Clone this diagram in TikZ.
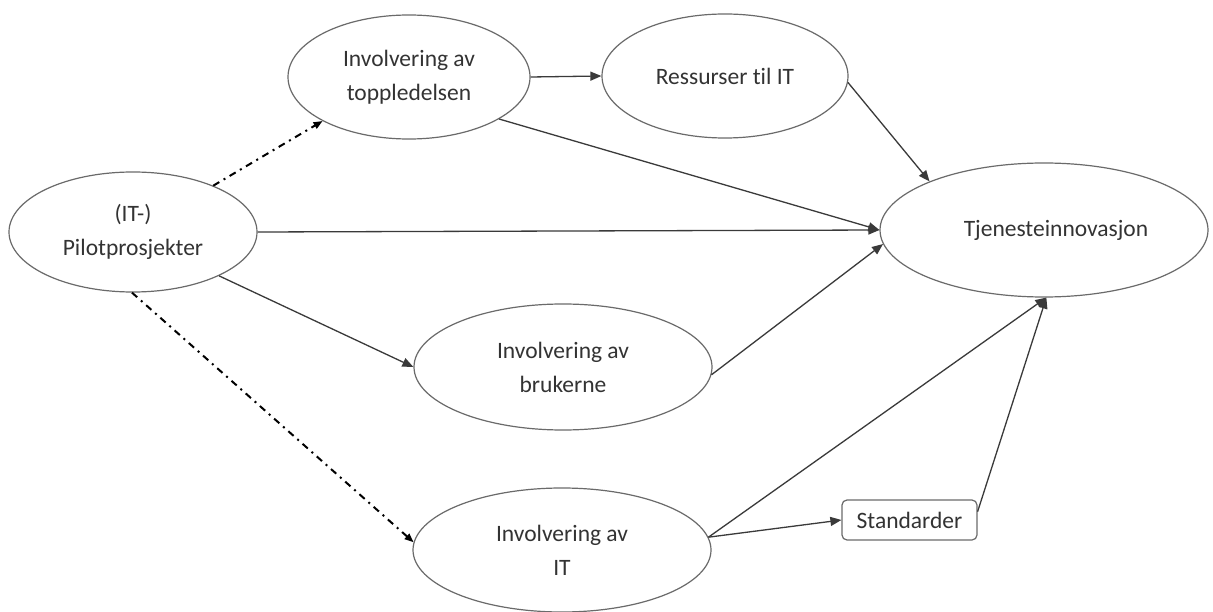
\documentclass[tikz,border=0pt]{standalone}
\usepackage{fontspec}
\setmainfont{Carlito}[RawFeature={-liga;-clig;-dlig}]
\usetikzlibrary{shapes.geometric,arrows.meta}
\definecolor{ellcol}{HTML}{6A6A6A}
\definecolor{lincol}{HTML}{3A3A3A}
\definecolor{txtcol}{HTML}{333333}
\begin{document}
\begin{tikzpicture}[x=1pt,y=-1pt,
  ell/.style={draw=ellcol, line width=1.2pt, ellipse, inner sep=0pt, align=center, text=txtcol, font=\fontsize{23.5}{34}\selectfont},
  boxnode/.style={draw=ellcol, line width=1.2pt, rounded corners=5pt, inner sep=0pt, text=txtcol, font=\fontsize{23.5}{26}\selectfont},
  conn/.style={draw=lincol, line width=1.3pt, -{Triangle[length=11pt,width=9pt]}},
  dd/.style={draw=black, line width=2pt, dash pattern=on 7pt off 5pt on 2pt off 5pt, -{Triangle[length=9pt,width=7pt]}}
]
\useasboundingbox[fill=white] (0,0) rectangle (1213,612);
\node[ell, minimum width=248, minimum height=120] (pilot) at (133,232) {(IT-)\\Pilotprosjekter};
\node[ell, minimum width=242, minimum height=124] (topp) at (409,77) {Involvering av\\toppledelsen};
\node[ell, minimum width=246, minimum height=124] (ress) at (725,76) {Ressurser til IT};
\node[ell, minimum width=328, minimum height=134] (tj) at (1044,230) {\hspace*{24pt}Tjenesteinnovasjon};
\node[ell, minimum width=298, minimum height=126] (bru) at (563,367) {Involvering av\\brukerne};
\node[ell, minimum width=298, minimum height=124] (it) at (562,550) {Involvering av\\IT};
\node[boxnode, minimum width=135, minimum height=40] (std) at (909.5,520) {Standarder};

\draw[dd] (pilot.30) -- (topp.207);
\draw[dd] (pilot.-91) -- (it.177);
\draw[conn] (pilot.east) -- (tj.west);
\draw[conn] (pilot.-27) -- (bru.west);
\draw[conn] (topp.east) -- (ress.west);
\draw[conn] (topp.-25) -- (tj.west);
\draw[conn] (ress.-3) -- (tj.157);
\draw[conn] (bru.-3) -- (tj.185);
\draw[conn] (it.5) -- (tj.-88);
\draw[conn] (it.5) -- (std.west);
\draw[conn] (std.7) -- (tj.-88);
\end{tikzpicture}
\end{document}
